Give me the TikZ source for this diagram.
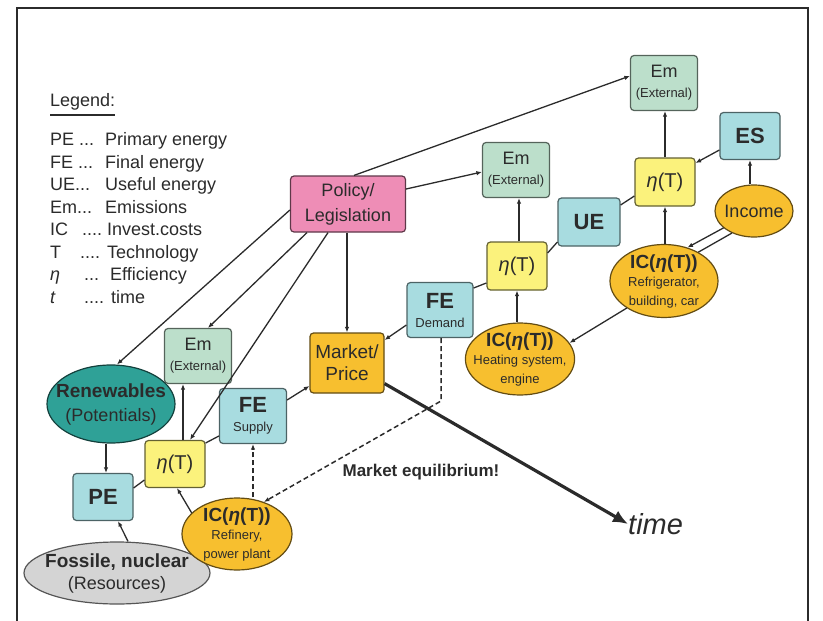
\documentclass[tikz,border=0pt]{standalone}
\usepackage{fontspec}
\setmainfont{Liberation Sans}
\usetikzlibrary{arrows.meta,shapes.geometric}

\definecolor{ink}{HTML}{2B2B2B}
\definecolor{emfill}{HTML}{BCDFCB}
\definecolor{enfill}{HTML}{A8DCE0}
\definecolor{etafill}{HTML}{FBF27C}
\definecolor{polfill}{HTML}{EE8DB6}
\definecolor{orfill}{HTML}{F7BF2F}
\definecolor{renfill}{HTML}{2FA197}
\definecolor{fosfill}{HTML}{D4D4D4}

\newcommand\fsz[2]{\fontsize{#1}{#2}\selectfont}
\newcommand\lgd[5]{\makebox[#1][l]{#2}\makebox[#3][l]{#4}#5}

\begin{document}
\begin{tikzpicture}[x=1pt,y=-1pt,
  every node/.style={text=ink},
  rb/.style={rectangle, rounded corners=3.5pt, line width=1.2pt, inner sep=0pt, align=center},
  embox/.style={rb, draw=emfill!45!black, fill=emfill, minimum width=67pt, minimum height=55pt, font=\fsz{13}{20}},
  enbox/.style={rb, draw=enfill!45!black, fill=enfill, font=\fsz{22}{22}\bfseries},
  etabox/.style={rb, draw=etafill!40!black, fill=etafill, minimum width=60pt, minimum height=48pt, font=\fsz{20}{20}},
  icoval/.style={ellipse, draw=orfill!40!black, fill=orfill, line width=1.2pt, inner sep=-8pt, align=center, font=\fsz{13}{18.5}},
  lg/.style={anchor=base west, inner sep=0pt, font=\fsz{18}{22}},
  link/.style={draw=ink, line width=1.3pt},
  arr/.style={link, -{Latex[length=5.5pt,width=4.5pt]}},
  eqline/.style={link, line width=1.5pt, dash pattern=on 5pt off 3pt},
]
\useasboundingbox (0,0) rectangle (823,621);

% frame
\draw[draw=ink, line width=1.5pt] (17,621) -- (17,8) -- (808,8) -- (808,621);

% legend
\node[lg] (lgT) at (50,106) {Legend:};
\draw[link] ([yshift=-9pt]lgT.base west) -- ([yshift=-9pt]lgT.base east);
\node[lg] (lg1) at (50,145.5) {\lgd{29pt}{PE}{26pt}{...}{Primary energy}};
\node[lg] (lg2) at (50,168)   {\lgd{28pt}{FE}{27pt}{...}{Final energy}};
\node[lg] (lg3) at (50,190.5) {\lgd{25pt}{UE}{30pt}{...}{Useful energy}};
\node[lg] (lg4) at (50,213)   {\lgd{27pt}{Em}{28pt}{...}{Emissions}};
\node[lg] (lg5) at (50,235.5) {\lgd{32pt}{IC}{25pt}{....}{Invest.costs}};
\node[lg] (lg6) at (50,258)   {\lgd{30pt}{T}{27pt}{....}{Technology}};
\node[lg] (lg7) at (50,280.5) {\lgd{34pt}{\textit{η}}{26pt}{...}{Efficiency}};
\node[lg] (lg8) at (50,303)   {\lgd{34pt}{\textit{t}}{27pt}{....}{time}};

% nodes
\node[embox] (EmTop) at (664,83) {{\fsz{18}{20}Em}\\(External)};
\node[enbox, minimum width=60pt, minimum height=47pt] (ES) at (750,136) {ES};
\node[etabox] (EtaR) at (665,182) {\textit{η}(T)};
\node[icoval, minimum width=78pt, minimum height=52pt, font=\fsz{18}{18}] (Income) at (754,211) {Income};
\node[enbox, minimum width=62pt, minimum height=48pt] (UE) at (589,222) {UE};
\node[embox] (EmMid) at (516,170) {{\fsz{18}{20}Em}\\(External)};
\node[rb, draw=polfill!40!black, fill=polfill, minimum width=115pt, minimum height=56pt, font=\fsz{18}{25}] (Policy) at (348,204) {Policy/\\Legislation};
\node[icoval, minimum width=108pt, minimum height=73pt] (ICR) at (664,281) {{\fsz{19}{19}\bfseries IC(\textit{η}(T))}\\Refrigerator,\\building, car};
\node[etabox] (EtaM) at (517,266) {\textit{η}(T)};
\node[enbox, minimum width=66pt, minimum height=55pt, font=\fsz{13}{19}] (FED) at (440,310) {{\fsz{22}{22}\bfseries FE}\\Demand};
\node[icoval, minimum width=108pt, minimum height=72pt] (ICH) at (520,359) {{\fsz{19}{19}\bfseries IC(\textit{η}(T))}\\Heating system,\\engine};
\node[rb, draw=orfill!40!black, fill=orfill, minimum width=74pt, minimum height=60pt, font=\fsz{19}{22}] (Market) at (347,363) {Market/\\Price};
\node[embox] (EmL) at (198,356) {{\fsz{18}{20}Em}\\(External)};
\node[ellipse, draw=renfill!40!black, fill=renfill, line width=1.2pt, inner sep=-10pt, minimum width=128pt, minimum height=78pt, align=center, font=\fsz{18}{24}] (Renew) at (111,404) {{\bfseries\fsz{19}{24}Renewables}\\(Potentials)};
\node[enbox, minimum width=67pt, minimum height=55pt, font=\fsz{13}{19}] (FES) at (253,416) {{\fsz{22}{22}\bfseries FE}\\Supply};
\node[etabox, minimum height=47pt] (EtaL) at (175,464) {\textit{η}(T)};
\node[enbox, minimum width=60pt, minimum height=47pt] (PE) at (103,497) {PE};
\node[ellipse, draw=fosfill!40!black, fill=fosfill, line width=1.2pt, inner sep=-10pt, minimum width=186pt, minimum height=62pt, align=center, font=\fsz{18}{22}] (Fos) at (117,573) {{\bfseries\fsz{19}{22}Fossile, nuclear}\\(Resources)};
\node[icoval, minimum width=110pt, minimum height=72pt] (ICF) at (237,534) {{\fsz{19}{19}\bfseries IC(\textit{η}(T))}\\Refinery,\\power plant};

\node[font=\fsz{17}{17}\bfseries, inner sep=0pt] (eqlbl) at (421,472) {Market equilibrium!};
\node[font=\fsz{29}{29}\itshape, anchor=west, inner sep=0pt] (timelbl) at (628,524) {time};

% policy links
\draw[arr] ([xshift=6pt]Policy.north) -- ([yshift=7pt]EmTop.west);
\draw[arr] ([yshift=15pt]Policy.east) -- ([yshift=-2pt]EmMid.west);
\draw[arr] (Market.north |- Policy.south) -- (Market.north);
\draw[arr] ([yshift=-6pt]Policy.west) -- ([xshift=6pt]Renew.north);
\draw[arr] ([xshift=-41pt]Policy.south) -- ([xshift=10pt]EmL.north);
\draw[arr] ([xshift=-20pt]Policy.south) -- ([xshift=15pt]EtaL.north);

% supply side
\draw[arr] ([xshift=3pt]PE.north |- Renew.south) -- ([xshift=3pt]PE.north);
\draw[arr] ([xshift=11pt]Fos.north) -- ([xshift=15pt]PE.south);
\draw[link] ([yshift=9pt]PE.east) -- ([yshift=-16pt]EtaL.west);
\draw[arr] ([xshift=8pt]EtaL.north) -- ([xshift=8pt]EtaL.north |- EmL.south);
\draw[link] ([yshift=21pt]EtaL.east) -- ([yshift=-20pt]FES.west);
\draw[arr] (ICF.155) -- ([xshift=2pt]EtaL.south);
\draw[eqline, -{Latex[length=5.5pt,width=4.5pt]}] (ICF.north -| FES.south) -- (FES.south);
\draw[arr] ([yshift=16pt]FES.east) -- ([yshift=-23pt]Market.west);

% demand side
\draw[arr] ([yshift=-15pt]FED.west) -- ([yshift=23pt]Market.east);
\draw[link] ([yshift=22pt]FED.east) -- ([yshift=-17pt]EtaM.west);
\draw[arr] ([xshift=2pt]EtaM.north) -- ([xshift=2pt]EtaM.north |- EmMid.south);
\draw[link] ([yshift=13pt]EtaM.east) -- ([yshift=-20pt]UE.west);
\draw[arr] (EtaM.south |- ICH.north) -- (EtaM.south);
\draw[link] ([yshift=17pt]UE.east) -- ([yshift=-14pt]EtaR.west);
\draw[arr] (EtaR.north) -- (EtaR.north |- EmTop.south);
\draw[arr] ([yshift=-14pt]ES.west) -- ([yshift=19pt]EtaR.east);
\draw[arr] (ES.south |- Income.north) -- (ES.south);
\draw[arr] (EtaR.south |- ICR.north) -- (EtaR.south);
\draw[arr] (Income.209) -- (ICR.55);
\draw[link] (Income.225) -- (ICR.40);
\draw[arr] (ICR.216) -- (ICH.18);

% market equilibrium and time axis
\coordinate (eqBend) at (441,401);
\draw[eqline, -{Latex[length=5.5pt,width=4.5pt]}] (FED.south -| eqBend) -- (eqBend) -- (ICF.50);
\draw[draw=ink, line width=3.2pt, -{Latex[length=15pt,width=13pt]}] ([yshift=10pt]Market.south east) -- (timelbl.west);
\end{tikzpicture}
\end{document}
